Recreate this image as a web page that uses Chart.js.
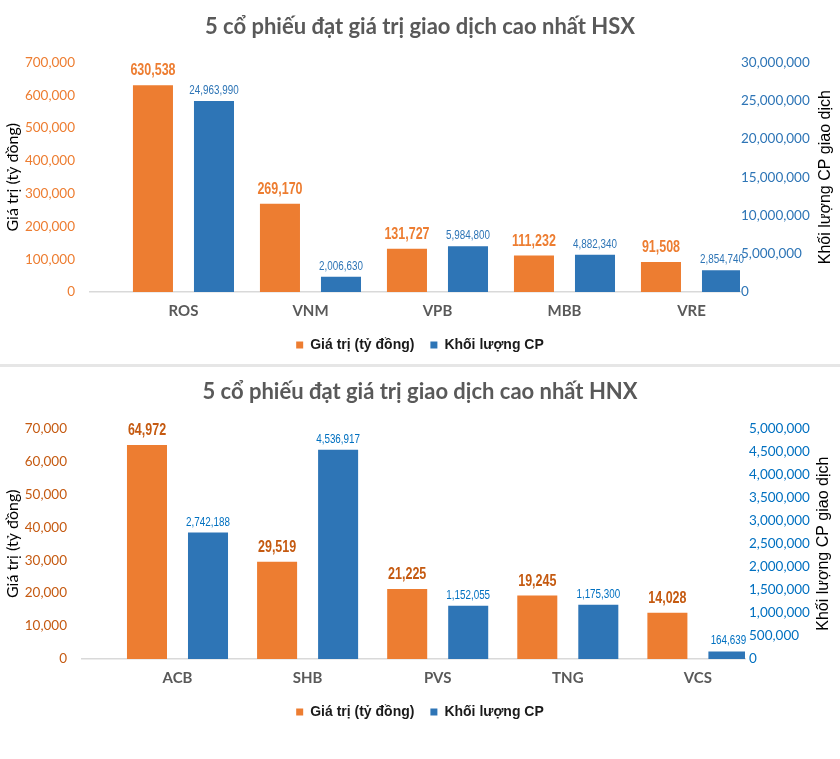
<!DOCTYPE html>
<html><head><meta charset="utf-8">
<script src="https://cdn.jsdelivr.net/npm/chart.js@4.4.1/dist/chart.umd.min.js"></script>
<style>
html,body{margin:0;padding:0;background:#fff;}
#w1{position:relative;width:840px;height:364px;}
#sep{width:840px;height:3px;background:#E6E6E6;}
#w2{position:relative;width:840px;height:392px;}
</style></head><body>
<div id="w1"><canvas id="c1"></canvas></div>
<div id="sep"></div>
<div id="w2"><canvas id="c2"></canvas></div>
<script>
// ---- data ----
const seriesNames = ['Giá trị (tỷ đồng)', 'Khối lượng CP'];
const leftAxisTitle = 'Giá trị (tỷ đồng)';
const rightAxisTitle = 'Khối lượng CP giao dịch';

const hsxTitle = '5 cổ phiếu đạt giá trị giao dịch cao nhất HSX';
const hsxCategories = ['ROS', 'VNM', 'VPB', 'MBB', 'VRE'];
const hsxValue = [630538, 269170, 131727, 111232, 91508];
const hsxVolume = [24963990, 2006630, 5984800, 4882340, 2854740];
const hsxLeftTicks = [0, 100000, 200000, 300000, 400000, 500000, 600000, 700000];
const hsxRightTicks = [0, 5000000, 10000000, 15000000, 20000000, 25000000, 30000000];

const hnxTitle = '5 cổ phiếu đạt giá trị giao dịch cao nhất HNX';
const hnxCategories = ['ACB', 'SHB', 'PVS', 'TNG', 'VCS'];
const hnxValue = [64972, 29519, 21225, 19245, 14028];
const hnxVolume = [2742188, 4536917, 1152055, 1175300, 164639];
const hnxLeftTicks = [0, 10000, 20000, 30000, 40000, 50000, 60000, 70000];
const hnxRightTicks = [0, 500000, 1000000, 1500000, 2000000, 2500000, 3000000, 3500000, 4000000, 4500000, 5000000];

const fmt = v => Number(v).toLocaleString('en-US');
const SANS = '"Liberation Sans", Arial, sans-serif';

// value labels above bars (Arial-Narrow look: Liberation Sans squeezed horizontally)
const barLabels = {
  id: 'barLabels',
  afterDatasetsDraw(chart) {
    const ctx = chart.ctx;
    chart.data.datasets.forEach((ds, di) => {
      const meta = chart.getDatasetMeta(di);
      meta.data.forEach((el, i) => {
        ctx.save();
        ctx.font = ds.labelFont;
        ctx.fillStyle = ds.labelColor;
        ctx.textAlign = 'center';
        ctx.textBaseline = 'alphabetic';
        ctx.translate(el.x, el.y - ds.labelOffset);
        ctx.scale(ds.labelSquash, 1);
        ctx.fillText(fmt(ds.data[i].y), 0, 0);
        ctx.restore();
      });
    });
  }
};

const rightTitle = {
  id: 'rightTitle',
  afterDraw(chart, args, opts) {
    const ctx = chart.ctx, a = chart.chartArea;
    ctx.save();
    ctx.translate(a.right + opts.offset, (a.top + a.bottom) / 2);
    ctx.rotate(-Math.PI / 2);
    ctx.font = '16px ' + SANS;
    ctx.fillStyle = '#000';
    ctx.textAlign = 'center';
    ctx.textBaseline = 'middle';
    ctx.fillText(opts.text, 0, 0);
    ctx.restore();
  }
};

function makeChart(id, p) {
  return new Chart(document.getElementById(id), {
    type: 'bar',
    data: {
      datasets: [
        { label: seriesNames[0], data: p.value.map((v, i) => ({ x: i, y: v })), yAxisID: 'y',
          backgroundColor: '#ED7D31', borderWidth: 0,
          labelColor: p.orangeText, labelFont: 'bold 16px ' + SANS, labelOffset: 10, labelSquash: 0.78 },
        { label: seriesNames[1], data: p.volume.map((v, i) => ({ x: i, y: v })), yAxisID: 'y1',
          backgroundColor: '#2E75B6', borderWidth: 0,
          labelColor: p.blueText, labelFont: '12px ' + SANS, labelOffset: 7, labelSquash: 0.82 }
      ]
    },
    options: {
      responsive: true, maintainAspectRatio: false, animation: false,
      categoryPercentage: p.catPct, barPercentage: 0.656,
      layout: { padding: { left: 0, right: 0, top: 0, bottom: p.padBottom } },
      plugins: {
        title: { display: true, text: p.title, color: '#595959',
          font: { family: 'Lato', size: 22, weight: 'bold' },
          padding: { top: p.titleTop, bottom: p.titleBottom } },
        legend: { position: 'bottom',
          labels: { boxWidth: 7, boxHeight: 7, padding: 16, color: '#1a1a1a',
            font: { family: SANS, size: 14, weight: 'bold' } } },
        tooltip: { enabled: false },
        rightTitle: { text: rightAxisTitle, offset: p.rightTitleOffset }
      },
      scales: {
        x: {
          type: 'linear', position: 'bottom', min: p.xMin, max: p.xMax, offset: false,
          grid: { display: false, drawTicks: false, offset: false },
          border: { display: true, color: '#D9D9D9', width: 1.5 },
          afterBuildTicks: s => { s.ticks = p.categories.map((_, i) => ({ value: i })); },
          afterFit: s => { s.height = 30; },
          ticks: { padding: 10, color: '#595959', autoSkip: false, maxRotation: 0,
            font: { family: 'Lato', size: 15, weight: 'bold' },
            callback: v => p.categories[v] }
        },
        y: {
          position: 'left', min: 0, max: p.leftTicks[p.leftTicks.length - 1],
          afterBuildTicks: s => { s.ticks = p.leftTicks.map(v => ({ value: v })); },
          afterFit: s => { s.width = p.leftW; },
          grid: { display: false, drawTicks: false },
          border: { display: false },
          ticks: { padding: 15, color: p.leftColor, font: { family: 'Lato', size: 13.5 }, callback: v => fmt(v) },
          title: { display: true, text: leftAxisTitle, color: '#000',
            font: { family: 'Lato', size: 16 }, padding: { top: 3, bottom: 0 } }
        },
        y1: {
          position: 'right', min: 0, max: p.rightTicks[p.rightTicks.length - 1],
          afterBuildTicks: s => { s.ticks = p.rightTicks.map(v => ({ value: v })); },
          afterFit: s => { s.width = p.rightW; },
          grid: { display: false, drawTicks: false },
          border: { display: false },
          ticks: { padding: p.rightPad, color: p.rightColor, font: { family: 'Lato', size: 13.5 }, callback: v => fmt(v) }
        }
      }
    },
    plugins: [barLabels, rightTitle]
  });
}

makeChart('c1', {
  title: hsxTitle, categories: hsxCategories, value: hsxValue, volume: hsxVolume,
  leftTicks: hsxLeftTicks, rightTicks: hsxRightTicks,
  xMin: -0.736, xMax: 4.382, catPct: 0.961, leftW: 90, rightW: 100, rightPad: 1,
  titleTop: 14, titleBottom: 22, padBottom: 2, rightTitleOffset: 86,
  leftColor: '#ED7D31', rightColor: '#2E75B6', orangeText: '#ED7D31', blueText: '#2E75B6'
});
makeChart('c2', {
  title: hnxTitle, categories: hnxCategories, value: hnxValue, volume: hnxVolume,
  leftTicks: hnxLeftTicks, rightTicks: hnxRightTicks,
  xMin: -0.734, xMax: 4.362, catPct: 0.938, leftW: 82, rightW: 95, rightPad: 4,
  titleTop: 12, titleBottom: 23, padBottom: 30, rightTitleOffset: 79,
  leftColor: '#C55A11', rightColor: '#0070C0', orangeText: '#C55A11', blueText: '#0070C0'
});
</script>
</body></html>
